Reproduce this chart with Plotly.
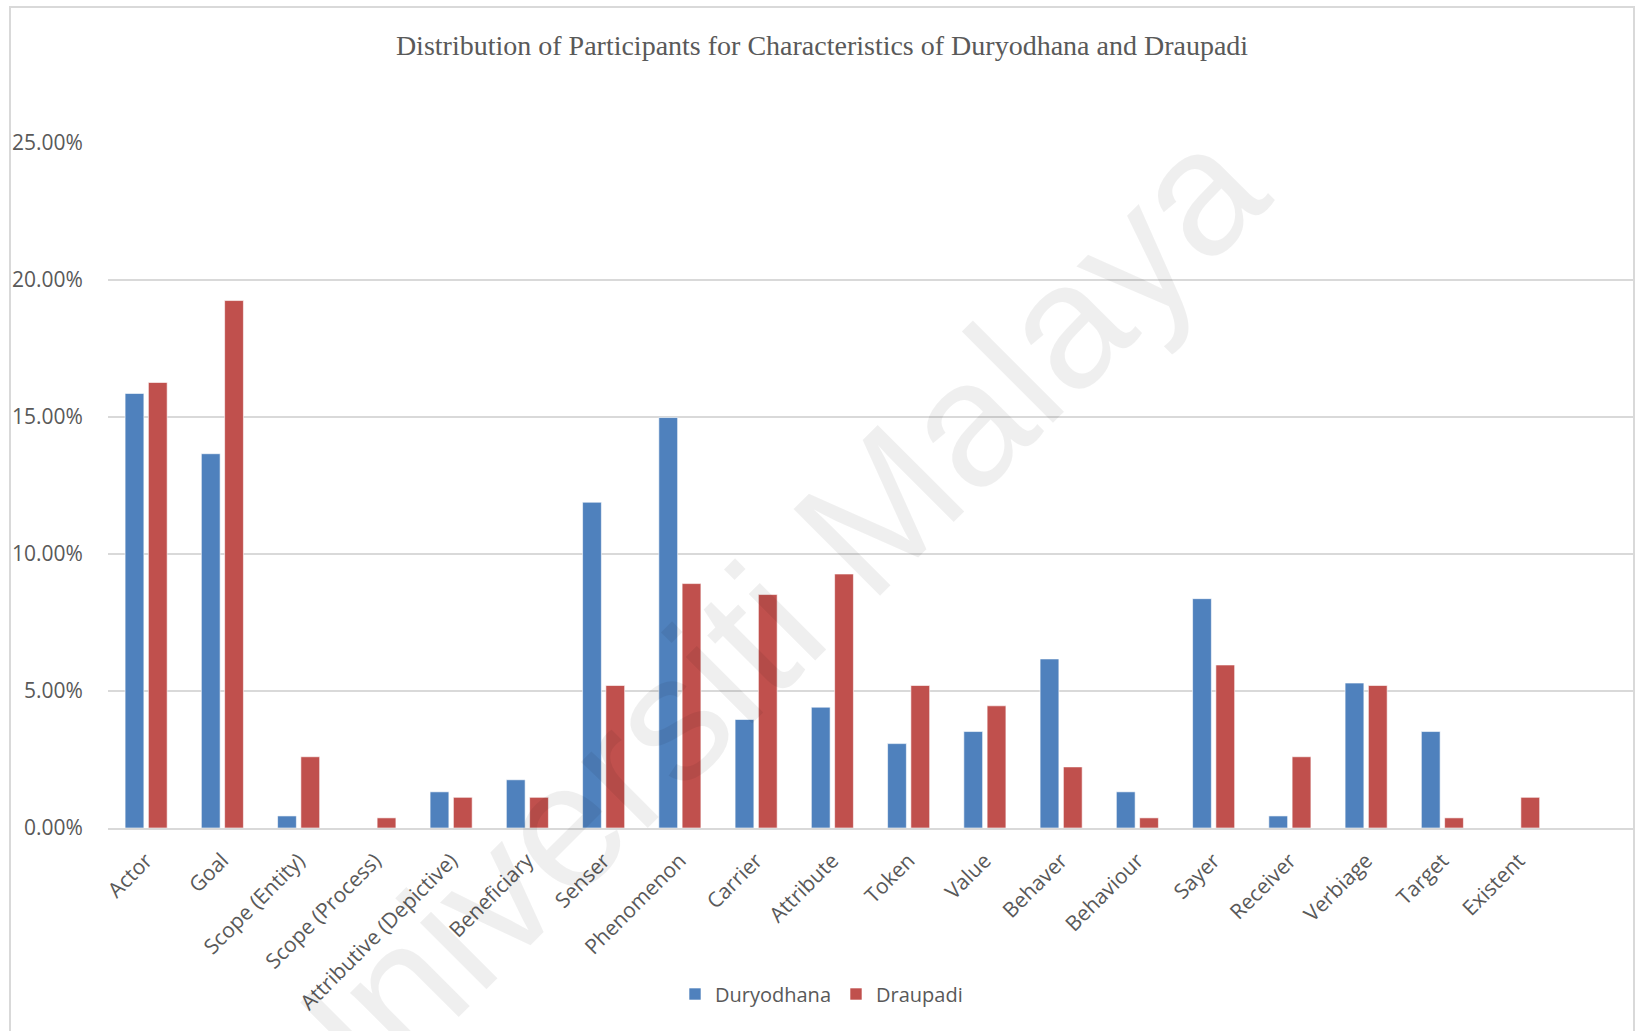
import plotly.graph_objects as go

# Participant roles (x categories)
categories = [
    "Actor", "Goal", "Scope (Entity)", "Scope (Process)", "Attributive (Depictive)",
    "Beneficiary", "Senser", "Phenomenon", "Carrier", "Attribute", "Token", "Value",
    "Behaver", "Behaviour", "Sayer", "Receiver", "Verbiage", "Target", "Existent",
]

# Share of participants (%) per character
duryodhana = [15.86, 13.66, 0.44, 0.00, 1.32, 1.76, 11.89, 14.98, 3.96, 4.41,
              3.08, 3.52, 6.17, 1.32, 8.37, 0.44, 5.29, 3.52, 0.00]
draupadi = [16.26, 19.25, 2.60, 0.37, 1.12, 1.12, 5.20, 8.92, 8.52, 9.27,
            5.20, 4.46, 2.23, 0.37, 5.95, 2.60, 5.20, 0.37, 1.12]

y_ticks = [0, 5, 10, 15, 20, 25]
y_tick_labels = ["0.00%", "5.00%", "10.00%", "15.00%", "20.00%", "25.00%"]

title_text = "Distribution of Participants for Characteristics of Duryodhana and Draupadi"
watermark_text = "Universiti Malaya"

W, H = 1635, 1031
L, R, T, B = 108, 2, 143, 203
plot_w = W - L - R
plot_h = H - T - B

BLUE = "#4F81BD"
RED = "#C0504D"
GRID = "#D9D9D9"
TEXT = "#595959"


def px_to_paper_x(px):
    return (px - L) / plot_w


def px_to_paper_y(py):
    return (H - B - py) / plot_h


fig = go.Figure()
fig.add_trace(go.Bar(
    name="Duryodhana", x=categories, y=duryodhana,
    marker=dict(color=BLUE, line=dict(color="rgba(255,255,255,0.6)", width=1)),
))
fig.add_trace(go.Bar(
    name="Draupadi", x=categories, y=draupadi,
    marker=dict(color=RED, line=dict(color="rgba(255,255,255,0.6)", width=1)),
))

fig.update_layout(
    width=W, height=H,
    margin=dict(l=L, r=R, t=T, b=B, autoexpand=False),
    paper_bgcolor="white",
    plot_bgcolor="white",
    barmode="group",
    bargap=0.389,
    bargroupgap=0.193,
    font=dict(family="Open Sans", size=20, color=TEXT),
    title=dict(
        text=title_text,
        font=dict(family="Liberation Serif", size=28, color=TEXT),
        x=822 / W, xref="container", xanchor="center",
        y=1 - 45 / H, yref="container", yanchor="middle",
    ),
    showlegend=True,
    legend=dict(
        orientation="h",
        xref="container", x=(691 - 16) / W, xanchor="left",
        yref="container", y=1 - 994 / H, yanchor="middle",
        font=dict(family="Open Sans", size=20, color=TEXT),
        bgcolor="rgba(0,0,0,0)",
    ),
    xaxis=dict(
        type="category",
        range=[-0.5, len(categories) + 0.5],
        tickangle=-45,
        ticks="outside", ticklen=10, tickcolor="rgba(0,0,0,0)",
        tickfont=dict(family="Open Sans", size=21, color=TEXT),
        showgrid=False,
        showline=True, linecolor=GRID, linewidth=2,
        zeroline=False,
    ),
    yaxis=dict(
        range=[0, 25],
        tickvals=y_ticks,
        ticktext=y_tick_labels,
        ticks="outside", ticklen=20, tickcolor="rgba(0,0,0,0)",
        tickfont=dict(family="Open Sans", size=21, color=TEXT),
        showgrid=True, gridcolor=GRID, gridwidth=1.5,
        zeroline=False, showline=False,
    ),
    shapes=[
        # chart frame
        dict(type="rect", xref="paper", yref="paper",
             x0=px_to_paper_x(10), x1=px_to_paper_x(1634),
             y0=px_to_paper_y(1045), y1=px_to_paper_y(7),
             line=dict(color=GRID, width=2), fillcolor="rgba(0,0,0,0)", layer="below"),
    ],
    annotations=[
        dict(text=watermark_text, xref="paper", yref="paper",
             x=px_to_paper_x(752), y=px_to_paper_y(636),
             xanchor="center", yanchor="middle",
             showarrow=False, textangle=-45,
             font=dict(family="Liberation Sans", size=178, color="rgba(0,0,0,0.062)")),
    ],
)

fig.write_html("out.html")
